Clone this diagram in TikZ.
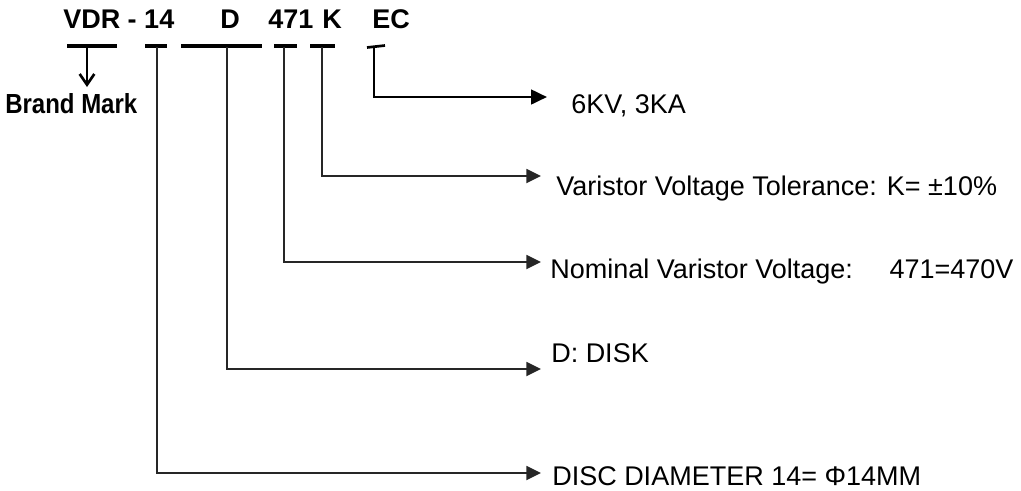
\documentclass[tikz,border=0pt]{standalone}
\usepackage{fontspec}
\usepackage{graphicx}
\setmainfont{Liberation Sans}
\usetikzlibrary{arrows.meta}
\begin{document}
\begin{tikzpicture}[x=0.75pt,y=-0.75pt,
  lbl/.style={anchor=base west, inner sep=0pt, font=\fontsize{20.25}{24}\selectfont},
  ttl/.style={anchor=base west, inner sep=0pt, font=\fontsize{20.25}{24}\selectfont\bfseries},
  bar/.style={line width=3.3pt},
  conn/.style={line width=1.4pt, draw=black!85, -{Triangle[length=11pt,width=10.5pt]}},
  thickconn/.style={line width=2pt, -{Triangle[length=12pt,width=11pt]}},
  barb/.style={line width=2pt, -{Straight Barb[length=8pt,width=11pt,line width=2pt]}}
]
\useasboundingbox (0,0) rectangle (1021,490);

% title parts
\node[ttl] (tVDR) at (63,28) {VDR - 14};
\node[ttl] (tD)   at (220,28) {D};
\node[ttl] (t471) at (268,28) {471};
\node[ttl] (tK)   at (322,28) {K};
\node[ttl] (tEC)  at (372,28) {EC};

% underline bars
\draw[bar] (67,46) -- (117,46);
\draw[bar] (145,46) -- (167,46);
\draw[bar] (181,46) -- (262,46);
\draw[bar] (274,46) -- (297,46);
\draw[bar] (310,46) -- (335,46);
\draw[line width=2pt] (367,47.5) -- (385,45.5);

% connector start points
\coordinate (cVDR) at (87,47);
\coordinate (c14)  at (157,47);
\coordinate (cD)   at (227,47);
\coordinate (c471) at (284,47);
\coordinate (cK)   at (322,47);
\coordinate (cEC)  at (374,46.5);

% arrow tips
\coordinate (aVDR) at (87,87);
\coordinate (a14)  at (541,473);
\coordinate (aD)   at (541,369);
\coordinate (a471) at (541,262);
\coordinate (aK)   at (541,176);
\coordinate (aEC)  at (547,97);

% labels
\node[anchor=base west, inner sep=0pt, font=\fontsize{18}{21}\selectfont\bfseries] (lVDR) at (5,113) {\scalebox{1}[1.15]{Brand Mark}};
\node[lbl] (lEC)  at (571,113) {6KV, 3KA};
\node[lbl] (lK)   at (556,195) {Varistor Voltage Tolerance: K= ±10\%};
\node[lbl] (l471) at (550,278) {Nominal Varistor Voltage:\hspace{27.5pt}471=470V};
\node[lbl] (lD)   at (551,362) {D: DISK};
\node[lbl] (l14)  at (552,485) {DISC DIAMETER 14= Φ14MM};

% connectors
\draw[barb] (cVDR) -- (aVDR);
\draw[conn] (c14) |- (a14);
\draw[conn] (cD) |- (aD);
\draw[conn] (c471) |- (a471);
\draw[conn] (cK) |- (aK);
\draw[thickconn] (cEC) |- (aEC);
\end{tikzpicture}
\end{document}
